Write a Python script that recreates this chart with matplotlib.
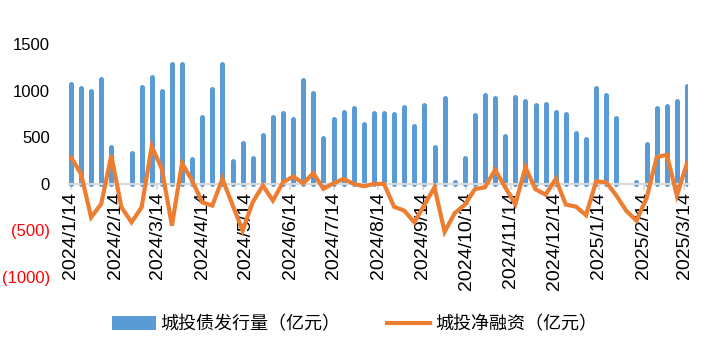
import numpy as np
import pandas as pd
import matplotlib
matplotlib.use('Agg')
import matplotlib.pyplot as plt
from matplotlib.patches import Patch
from matplotlib.lines import Line2D

plt.rcParams['font.family'] = ['Liberation Sans', 'Noto Sans CJK SC']

# weekly observations
dates = pd.date_range('2024-01-14', periods=62, freq='7D')

issuance = [1065, 1025, 1000, 1120, 395, np.nan, 325, 1035, 1150, 990,
            1280, 1280, 260, 710, 1015, 1290, 240, 440, 270, 520,
            710, 755, 690, 1110, 970, 485, 690, 765, 810, 635,
            755, 755, 745, 820, 615, 840, 390, 915, 15, 270,
            735, 950, 915, 510, 935, 885, 840, 850, 765, 745,
            540, 475, 1025, 950, 700, np.nan, 20, 420, 810, 830,
            885, 1045]

net_financing = [283, 104, -363, -219, 302, -255, -417, -255, 399, 158,
                 -453, 219, 32, -201, -237, 50, -230, -506, -201, -22,
                 -183, 14, 75, 3, 111, -57, 3, 50, -4, -29,
                 -4, -4, -250, -291, -417, -230, -40, -520, -318, -228,
                 -60, -40, 148, -40, -222, 176, -62, -119, 50, -226,
                 -248, -340, 23, 14, -129, -295, -399, -155, 283, 309,
                 -129, 219]

tick_dates = pd.date_range('2024-01-01', periods=15, freq='MS') + pd.Timedelta(days=13)
tick_labels = ['2024/1/14', '2024/2/14', '2024/3/14', '2024/4/14', '2024/5/14',
               '2024/6/14', '2024/7/14', '2024/8/14', '2024/9/14', '2024/10/14',
               '2024/11/14', '2024/12/14', '2025/1/14', '2025/2/14', '2025/3/14']

y_ticks = [-1000, -500, 0, 500, 1000, 1500]
y_labels = ['(1000)', '(500)', '0', '500', '1000', '1500']

blue = '#5B9BD5'
orange = '#ED7D31'
grey = '#D9D9D9'

fig = plt.figure(figsize=(7.09, 3.55), dpi=100)
ax = fig.add_axes([0.098, 0.221, 0.873, 0.655])

iss = np.array(issuance, dtype=float)
ok = ~np.isnan(iss)
bars = ax.vlines(dates[ok], 0, iss[ok], color=blue, linewidth=3.6, zorder=2)
bars.set_capstyle('round')

ax.plot(dates, net_financing, color=orange, linewidth=3, zorder=3,
        solid_joinstyle='miter')

ax.set_ylim(-1000, 1500)
ax.set_xlim(pd.Timestamp('2024-01-13'), pd.Timestamp('2025-03-17'))

for s in ['top', 'right', 'left']:
    ax.spines[s].set_visible(False)
ax.spines['bottom'].set_position(('data', 0))
ax.spines['bottom'].set_color(grey)
ax.spines['bottom'].set_linewidth(1.5)
ax.spines['bottom'].set_zorder(2.5)

ax.set_xticks(tick_dates)
ax.set_xticklabels(tick_labels, rotation=90, fontsize=14, va='top', ha='center')
ax.tick_params(axis='x', direction='out', length=4, width=1.2, color=grey, pad=2)

ax.set_yticks(y_ticks)
ax.set_yticklabels(y_labels, fontsize=12)
ax.tick_params(axis='y', length=0, pad=14)
for lab, v in zip(ax.get_yticklabels(), y_ticks):
    lab.set_color('#FF0000' if v < 0 else '#000000')

handles = [Patch(facecolor=blue, edgecolor='none'),
           Line2D([0], [0], color=orange, linewidth=3)]
fig.legend(handles, ['城投债发行量（亿元）', '城投净融资（亿元）'],
           loc='center', bbox_to_anchor=(0.5, 0.085), ncol=2, frameon=False,
           fontsize=13, handlelength=2.4, handleheight=0.8,
           columnspacing=2.6, handletextpad=0.25)

fig.savefig('out.png', dpi=100)
